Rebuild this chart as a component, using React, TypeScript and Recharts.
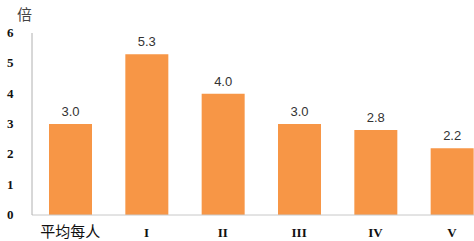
import React from "react";
import { BarChart, Bar, XAxis, YAxis, LabelList } from "recharts";

const categories = ["平均每人", "I", "II", "III", "IV", "V"];
const values = [3.0, 5.3, 4.0, 3.0, 2.8, 2.2];
const yTicks = [0, 1, 2, 3, 4, 5, 6];
const unitLabel = "倍";

const data = categories.map((c, i) => ({ name: c, value: values[i] }));

const XTick = (props: any) => {
  const { x, y, payload } = props;
  const isCjk = /[\u4e00-\u9fff]/.test(payload.value);
  return (
    <text
      x={x}
      y={y + 14}
      textAnchor="middle"
      fontFamily={isCjk ? "Noto Sans CJK SC" : "Liberation Serif, DejaVu Serif, serif"}
      fontWeight={isCjk ? 400 : 700}
      fontSize={isCjk ? 15 : 13}
      fill="#111"
    >
      {payload.value}
    </text>
  );
};

const YTick = (props: any) => {
  const { y, payload } = props;
  return (
    <text
      x={7}
      y={y + 4}
      textAnchor="start"
      fontFamily="Liberation Serif, DejaVu Serif, serif"
      fontWeight={700}
      fontSize={13}
      fill="#111"
    >
      {payload.value}
    </text>
  );
};

export default function App() {
  return (
    <div style={{ position: "absolute", left: 0, top: 0, width: 474, height: 241, overflow: "hidden", background: "#fff" }}>
      <div
        style={{
          position: "absolute",
          left: 17,
          top: 5,
          fontFamily: "Noto Sans CJK SC",
          fontSize: 15,
          color: "#444",
          lineHeight: "18px",
        }}
      >
        {unitLabel}
      </div>
      <BarChart width={490} height={241} data={data} margin={{ top: 33, right: 0, bottom: 0, left: 0 }}>
        <XAxis
          dataKey="name"
          height={26}
          tick={<XTick />}
          tickLine={false}
          axisLine={{ stroke: "#c8c8c8" }}
          interval={0}
        />
        <YAxis
          width={32}
          domain={[0, 6]}
          ticks={yTicks}
          tick={<YTick />}
          tickLine={false}
          axisLine={{ stroke: "#b0b0b0" }}
        />
        <Bar dataKey="value" fill="#F79646" barSize={43} isAnimationActive={false}>
          <LabelList
            dataKey="value"
            position="top"
            offset={8}
            formatter={(v: any) => Number(v).toFixed(1)}
            style={{ fontFamily: "Liberation Sans, Arial, sans-serif", fontSize: 13, fill: "#333" }}
          />
        </Bar>
      </BarChart>
    </div>
  );
}
